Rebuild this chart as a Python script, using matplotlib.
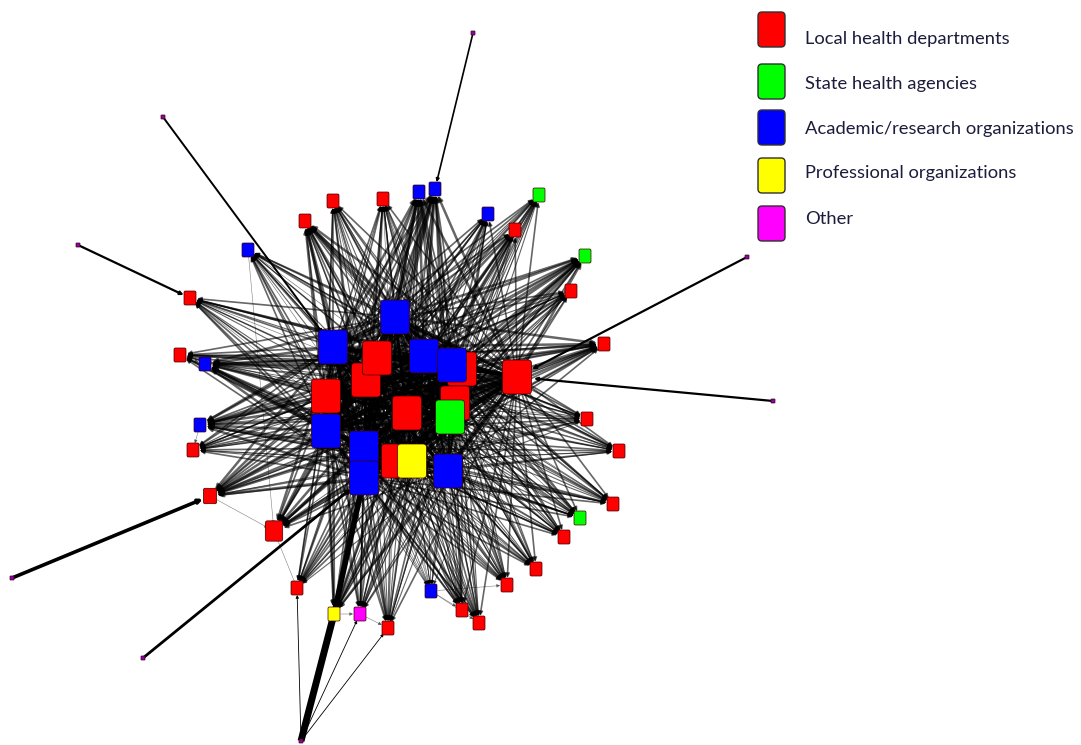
import matplotlib.pyplot as plt
from matplotlib.patches import FancyBboxPatch, FancyArrowPatch

# organisation types and colours
type_names = ['Local health departments', 'State health agencies',
              'Academic/research organizations', 'Professional organizations', 'Other']
type_colors = {'L': '#ff0000', 'S': '#00ff00', 'A': '#0000ff', 'P': '#ffff00', 'O': '#ff00ff'}

# core members (layout position, type, tie strength)
core_x = [395, 333, 366, 377, 424, 462, 452, 517, 326, 455, 407, 450, 326, 364, 364, 396, 412, 448]
core_y = [317, 347, 380, 358, 356, 369, 365, 377, 396, 403, 413, 417, 431, 448, 478, 461, 461, 471]
core_type = ['A', 'A', 'L', 'L', 'A', 'L', 'A', 'L', 'L', 'L', 'L', 'S', 'A', 'A', 'A', 'L', 'P', 'A']
core_strength = [3, 3, 2, 2, 3, 2, 3, 3, 2, 1, 2, 2, 3, 3, 3, 1, 2, 2]

# peripheral members
per_x = [333, 383, 419, 435, 539, 488, 515, 305, 248, 585, 571, 190, 604, 180, 205, 587, 200,
         193, 619, 210, 613, 580, 274, 564, 536, 507, 297, 431, 462, 479, 334, 360, 388]
per_y = [201, 199, 192, 189, 195, 214, 230, 221, 250, 256, 291, 298, 344, 355, 364, 419, 425,
         450, 451, 496, 504, 518, 531, 537, 569, 585, 588, 591, 610, 623, 614, 614, 628]
per_type = ['L', 'L', 'A', 'A', 'S', 'A', 'L', 'L', 'A', 'S', 'L', 'L', 'L', 'L', 'A', 'L', 'A',
            'L', 'L', 'L', 'L', 'S', 'L', 'L', 'L', 'L', 'L', 'A', 'L', 'L', 'P', 'O', 'L']
per_strength = [2, 2, 3, 3, 2, 2, 2, 3, 2, 3, 2, 2, 3, 2, 3, 2, 3,
                2, 2, 3, 2, 2, 3, 2, 2, 2, 2, 1, 2, 2, 3, 2, 2]
per_size = [1, 1, 1, 1, 1, 1, 1, 1, 1, 1, 1, 1, 1, 1, 1, 1, 1,
            1, 1, 1.1, 1, 1, 1.45, 1, 1, 1, 1, 1, 1, 1, 1, 1, 1]

# isolates with a single tie (position, partner: ('c', i) core / ('p', i) periphery, width)
pend_x = [473, 163, 78, 747, 773, 12, 143, 301]
pend_y = [33, 117, 245, 257, 401, 578, 658, 741]
pend_ties = [[('p', 3, 1.2)], [('c', 1, 1.4)], [('p', 11, 1.6)], [('c', 7, 1.6)],
             [('c', 7, 1.6)], [('p', 19, 2.6)], [('c', 14, 2.0)],
             [('p', 30, 5.0), ('p', 26, 0.6), ('p', 31, 0.6), ('p', 32, 0.6)]]

# ties between peripheral members
per_ties = [(27, 28), (27, 29), (26, 22), (13, 14), (8, 22), (30, 31), (31, 32), (16, 17),
            (19, 22), (27, 25)]

fig = plt.figure(figsize=(10.81, 7.45), dpi=100)
ax = fig.add_axes([0, 0, 1, 1])
ax.set_xlim(0, 1081)
ax.set_ylim(745, 0)
ax.axis('off')

CORE_W, CORE_H = 29, 34
PER_W, PER_H = 12, 14
PX = 0.72  # points per pixel

# core-core ties
for i in range(len(core_x)):
    for j in range(i + 1, len(core_x)):
        ax.plot([core_x[i], core_x[j]], [core_y[i], core_y[j]], color='black',
                lw=0.5 * core_strength[i] * core_strength[j] ** 0.5, alpha=0.8, zorder=1)

# core-periphery ties with arrow heads at the peripheral end
for p in range(len(per_x)):
    for c in range(len(core_x)):
        lw = 0.2 * per_strength[p] * core_strength[c]
        arr = FancyArrowPatch((core_x[c], core_y[c]), (per_x[p], per_y[p]),
                              arrowstyle='-|>', mutation_scale=4 + 1.5 * lw,
                              shrinkA=CORE_H / 2 * PX, shrinkB=PER_H / 2 * PX * per_size[p],
                              color='black', lw=lw, alpha=0.6, zorder=2)
        ax.add_patch(arr)

for a, b in per_ties:
    arr = FancyArrowPatch((per_x[a], per_y[a]), (per_x[b], per_y[b]), arrowstyle='-|>',
                          mutation_scale=5, shrinkA=5, shrinkB=5, color='black', lw=0.4,
                          alpha=0.5, zorder=2)
    ax.add_patch(arr)

# yellow professional org -> core, strong tie
ax.plot([per_x[30], core_x[14]], [per_y[30], core_y[14]], color='black', lw=4,
        solid_capstyle='butt', zorder=2)

for k in range(len(pend_x)):
    for kind, idx, w in pend_ties[k]:
        if kind == 'c':
            tx, ty, sh = core_x[idx], core_y[idx], CORE_H / 2 * PX
        else:
            tx, ty, sh = per_x[idx], per_y[idx], PER_H / 2 * PX * per_size[idx]
        if w > 3:
            ax.plot([pend_x[k], tx], [pend_y[k], ty], color='black', lw=w,
                    solid_capstyle='butt', zorder=2)
            continue
        arr = FancyArrowPatch((pend_x[k], pend_y[k]), (tx, ty), arrowstyle='-|>',
                              mutation_scale=4 + 0.5 * w, shrinkA=1, shrinkB=sh,
                              color='black', lw=w, zorder=2)
        ax.add_patch(arr)


def node(x, y, w, h, color, z):
    ax.add_patch(FancyBboxPatch((x - w / 2, y - h / 2), w, h,
                                boxstyle='round,pad=0,rounding_size=%.1f' % (w * 0.12),
                                facecolor=color, edgecolor='#3a0000', lw=0.5, zorder=z))


for p in range(len(per_x)):
    node(per_x[p], per_y[p], PER_W * per_size[p], PER_H * per_size[p],
         type_colors[per_type[p]], 5)
for c in range(len(core_x)):
    node(core_x[c], core_y[c], CORE_W, CORE_H, type_colors[core_type[c]], 6 + c * 0.01)
for k in range(len(pend_x)):
    node(pend_x[k], pend_y[k], 4, 4, '#9000b0', 5)

# legend
leg_y = [29, 81, 127, 175, 223]
txt_y = [39, 84, 129, 173, 219]
for i, key in enumerate(['L', 'S', 'A', 'P', 'O']):
    ax.add_patch(FancyBboxPatch((758, leg_y[i] - 17), 27, 35,
                                boxstyle='round,pad=0,rounding_size=4',
                                facecolor=type_colors[key], edgecolor='#303030', lw=1.0,
                                zorder=7))
    ax.text(805, txt_y[i], type_names[i], fontsize=13.2, family='Lato', color='#1c1c3c',
            va='center', ha='left', zorder=7)

fig.savefig('out.png', dpi=100, facecolor='white')
